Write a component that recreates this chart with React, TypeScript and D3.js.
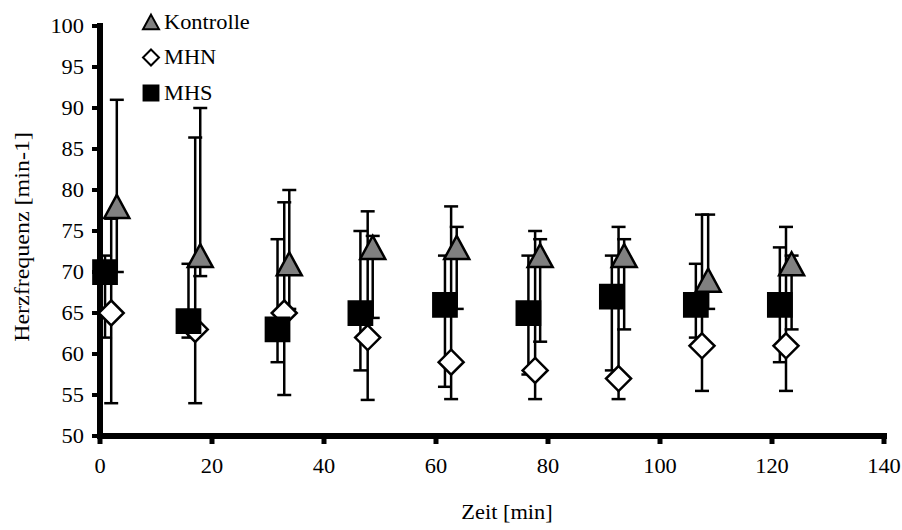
import React, { useEffect, useRef } from 'react';
import * as d3 from 'd3';

// values
const seriesNames = ['Kontrolle', 'MHN', 'MHS'];

const kontrolleTime = [3, 17.9, 33.8, 48.7, 63.7, 78.6, 93.6, 108.6, 123.5];
const kontrolleMean = [78, 72, 71, 73, 73, 72, 72, 69, 71];
const kontrolleLow = [70, 69.5, 65.5, 64.4, 65.5, 61.5, 63, 65.5, 63];
const kontrolleHigh = [91, 90, 80, 74.4, 75.5, 74, 74, 77, 72];

const mhnTime = [2, 17, 32.9, 47.8, 62.7, 77.7, 92.6, 107.5, 122.5];
const mhnMean = [65, 63, 65, 62, 59, 58, 57, 61, 61];
const mhnLow = [54, 54, 55, 54.4, 54.5, 54.5, 54.5, 55.5, 55.5];
const mhnHigh = [76.5, 86.4, 78.5, 77.4, 78, 75, 75.5, 77, 75.5];

const mhsTime = [0.9, 15.8, 31.7, 46.5, 61.6, 76.5, 91.4, 106.4, 121.4];
const mhsMean = [70, 64, 63, 65, 66, 65, 67, 66, 66];
const mhsLow = [62, 62, 59, 58, 56, 57.5, 58, 62, 59];
const mhsHigh = [72, 71, 74, 75, 72, 72, 72, 71, 73];

const xTickValues = [0, 20, 40, 60, 80, 100, 120, 140];
const yTickValues = [50, 55, 60, 65, 70, 75, 80, 85, 90, 95, 100];

const W = 902;
const H = 530;
const FONT = "'Liberation Serif', 'Times New Roman', Times, 'DejaVu Serif', serif";
const SX = 1.12; // the picture's text is a bit wider than tall

function markerPath(kind, size) {
    const h = size / 2;
    if (kind === 'triangle') {
        return `M0,${-h * 0.92} L${h},${h * 0.92} L${-h},${h * 0.92} Z`;
    }
    if (kind === 'diamond') {
        return `M0,${-h} L${h},0 L0,${h} L${-h},0 Z`;
    }
    return `M${-h * 0.93},${-h * 0.93} H${h * 0.93} V${h * 0.93} H${-h * 0.93} Z`;
}

const App = () => {
    const anchor = useRef(null);

    useEffect(() => {
        const svg = d3.select(anchor.current);
        svg.selectAll('*').remove();

        const x = d3.scaleLinear().domain([0, 140]).range([100, 884]);
        const y = d3.scaleLinear().domain([50, 100]).range([436, 26]);

        const series = [
            { name: seriesNames[0], kind: 'triangle', fill: '#808080', t: kontrolleTime, m: kontrolleMean, lo: kontrolleLow, hi: kontrolleHigh },
            { name: seriesNames[1], kind: 'diamond', fill: '#ffffff', t: mhnTime, m: mhnMean, lo: mhnLow, hi: mhnHigh },
            { name: seriesNames[2], kind: 'square', fill: '#000000', t: mhsTime, m: mhsMean, lo: mhsLow, hi: mhsHigh },
        ];

        // axes
        const axes = svg.append('g');
        axes.append('line')
            .attr('x1', x(0)).attr('x2', x(0))
            .attr('y1', y(100) - 3).attr('y2', y(50) + 3)
            .attr('stroke', 'black').attr('stroke-width', 6);
        axes.append('line')
            .attr('x1', x(0) - 3).attr('x2', x(140) + 3)
            .attr('y1', y(50)).attr('y2', y(50))
            .attr('stroke', 'black').attr('stroke-width', 6);

        axes.selectAll('.ytick').data(yTickValues).enter().append('line')
            .attr('x1', x(0) - 8).attr('x2', x(0))
            .attr('y1', (d) => y(d)).attr('y2', (d) => y(d))
            .attr('stroke', 'black').attr('stroke-width', 4);
        axes.selectAll('.xtick').data(xTickValues).enter().append('line')
            .attr('x1', (d) => x(d)).attr('x2', (d) => x(d))
            .attr('y1', y(50)).attr('y2', y(50) + 8)
            .attr('stroke', 'black').attr('stroke-width', 5);

        axes.selectAll('.ylabel').data(yTickValues).enter().append('text')
            .attr('transform', (d) => `translate(84,${y(d) + 6.5}) scale(${SX},1)`)
            .attr('text-anchor', 'end')
            .style('font-family', FONT).style('font-size', '20px')
            .text((d) => d);
        axes.selectAll('.xlabel').data(xTickValues).enter().append('text')
            .attr('transform', (d) => `translate(${x(d)},473) scale(${SX},1)`)
            .attr('text-anchor', 'middle')
            .style('font-family', FONT).style('font-size', '20px')
            .text((d) => d);

        svg.append('text')
            .attr('transform', `translate(507,519) scale(${SX},1)`)
            .attr('text-anchor', 'middle')
            .style('font-family', FONT).style('font-size', '20px')
            .text('Zeit [min]');
        svg.append('text')
            .attr('transform', `translate(29,237) rotate(-90) scale(1.2,1)`)
            .attr('text-anchor', 'middle')
            .style('font-family', FONT).style('font-size', '20px')
            .text('Herzfrequenz [min-1]');

        // error bars first, markers on top
        const bars = svg.append('g');
        series.forEach((s) => {
            s.t.forEach((t, i) => {
                const cx = x(t);
                bars.append('line')
                    .attr('x1', cx).attr('x2', cx)
                    .attr('y1', y(s.lo[i])).attr('y2', y(s.hi[i]))
                    .attr('stroke', 'black').attr('stroke-width', 2.5);
                [s.lo[i], s.hi[i]].forEach((v) => {
                    bars.append('line')
                        .attr('x1', cx - 7).attr('x2', cx + 7)
                        .attr('y1', y(v)).attr('y2', y(v))
                        .attr('stroke', 'black').attr('stroke-width', 2.5);
                });
            });
        });

        const marks = svg.append('g');
        series.forEach((s) => {
            marks.selectAll('.m-' + s.kind).data(s.t.map((t, i) => [t, s.m[i]])).enter()
                .append('path')
                .attr('d', markerPath(s.kind, 25))
                .attr('transform', (d) => `translate(${x(d[0])},${y(d[1])})`)
                .attr('fill', s.fill)
                .attr('stroke', 'black')
                .attr('stroke-width', 2.5)
                .attr('stroke-linejoin', 'miter');
        });

        // legend
        const legendY = [22, 57.5, 93];
        const legend = svg.append('g');
        series.forEach((s, i) => {
            legend.append('path')
                .attr('d', markerPath(s.kind, 16))
                .attr('transform', `translate(151,${legendY[i]})`)
                .attr('fill', s.fill)
                .attr('stroke', 'black')
                .attr('stroke-width', 2);
            legend.append('text')
                .attr('transform', `translate(164,${legendY[i] + 6.8}) scale(${SX},1)`)
                .style('font-family', FONT).style('font-size', '20px')
                .text(s.name);
        });
    }, []);

    return <svg ref={anchor} width={W} height={H}
        style={{ position: 'absolute', left: 0, top: 0, background: 'white' }} />;
};

export default App;
